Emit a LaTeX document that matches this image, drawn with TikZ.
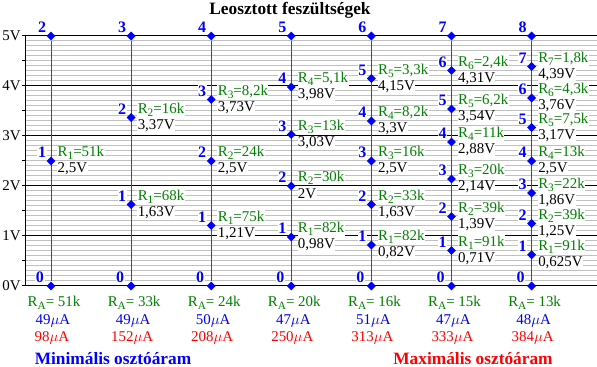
\documentclass[tikz,border=0pt]{standalone}
\usepackage{fontspec}
\setmainfont{Liberation Serif}
\usetikzlibrary{shapes.geometric}
\definecolor{lgray}{RGB}{192,192,192}
\definecolor{dgreen}{RGB}{0,128,0}
\newcommand\sbs[1]{\raisebox{-0.45ex}{\fontsize{8.5}{9}\selectfont #1}}
\tikzset{
  dot/.style={diamond,fill=blue,inner sep=0pt,minimum width=6.8pt,minimum height=6.8pt},
  num/.style={text=blue,font=\fontsize{12}{12}\selectfont\bfseries,fill=white,inner sep=0.4pt},
  rlab/.style={text=dgreen,font=\fontsize{11.2}{12}\selectfont,fill=white,inner sep=0.3pt,anchor=west},
  vlab/.style={text=black,font=\fontsize{11.2}{12}\selectfont,fill=white,inner sep=0.3pt,anchor=west},
  ralab/.style={text=dgreen,font=\fontsize{11.2}{12}\selectfont,inner sep=0pt},
  cura/.style={text=blue,font=\fontsize{11.2}{12}\selectfont,inner sep=0pt},
  curb/.style={text=red,font=\fontsize{11.2}{12}\selectfont,inner sep=0pt},
  axlab/.style={font=\fontsize{11.2}{12}\selectfont,inner sep=0pt,anchor=east},
  redline/.style={red,line width=0.75pt},
  gridg/.style={lgray,line width=0.75pt},
  gridk/.style={black,line width=0.75pt},
  bigtitle/.style={font=\fontsize{13}{14}\selectfont\bfseries,inner sep=0pt}
}
\newcommand\tap[6]{%
  \node[num] (#1n#3) at ({#2-9},{286-50*#4-8.5}) {#3};
  \node[rlab] (#1r#3) at ({#2+6},{286-50*#4-8}) {R\sbs{#3}=#5};
  \node[vlab] (#1v#3) at ({#2+6},{286-50*#4+8}) {#6};
  \node[dot] (#1t#3) at (#2,{286-50*#4}) {};
}
\newcommand\column[6]{%
  \node[dot] (#1top) at (#2,36) {};
  \node[dot] (#1bot) at (#2,286) {};
  \draw[redline] (#1top) -- (#1bot);
  \node[num] (#1ntop) at ({#2-9},27.5) {#3};
  \node[num] (#1nbot) at ({#2-11},277) {0};
  \node[ralab] (#1ra) at ({#2+3},303) {R\sbs{A}= #4};
  \node[cura] (#1ia) at ({#2+2},321) {#5$\mu$A};
  \node[curb] (#1ib) at ({#2+1},338) {#6$\mu$A};
}
\begin{document}
\begin{tikzpicture}[x=0.75pt,y=-0.75pt]
\useasboundingbox (0,0) rectangle (597,367);
% grid
\foreach \i in {1,...,49} {
  \pgfmathtruncatemacro\m{mod(\i,10)}
  \ifnum\m=0\else
    \draw[gridg] (26,{286-5*\i}) -- (597,{286-5*\i});
  \fi
}
\foreach \v in {0,...,5} {
  \draw[gridk] (22,{286-50*\v}) -- (597,{286-50*\v});
  \node[axlab] (ax\v) at (21,{286-50*\v}) {\v V};
}
\foreach \v in {0,...,4} {
  \draw[gridk] (22,{286-50*\v-25}) -- (25,{286-50*\v-25});
}
\draw[gridk] (25,36) -- (25,286);
% title
\node[bigtitle] (title) at (290,10) {Leosztott feszültségek};
% column 1
\column{a}{51}{2}{51k}{49}{98}
\tap{a}{51}{1}{2.5}{51k}{2,5V}
% column 2
\column{b}{131.1}{3}{33k}{49}{152}
\tap{b}{131.1}{2}{3.37}{16k}{3,37V}
\tap{b}{131.1}{1}{1.63}{68k}{1,63V}
% column 3
\column{c}{211.2}{4}{24k}{50}{208}
\tap{c}{211.2}{3}{3.73}{8,2k}{3,73V}
\tap{c}{211.2}{2}{2.5}{24k}{2,5V}
\tap{c}{211.2}{1}{1.21}{75k}{1,21V}
% column 4
\column{d}{291.3}{5}{20k}{47}{250}
\tap{d}{291.3}{4}{3.98}{5,1k}{3,98V}
\tap{d}{291.3}{3}{3.03}{13k}{3,03V}
\tap{d}{291.3}{2}{2}{30k}{2V}
\tap{d}{291.3}{1}{0.98}{82k}{0,98V}
% column 5
\column{e}{371.4}{6}{16k}{51}{313}
\tap{e}{371.4}{5}{4.15}{3,3k}{4,15V}
\tap{e}{371.4}{4}{3.3}{8,2k}{3,3V}
\tap{e}{371.4}{3}{2.5}{16k}{2,5V}
\tap{e}{371.4}{2}{1.63}{33k}{1,63V}
\tap{e}{371.4}{1}{0.82}{82k}{0,82V}
% column 6
\column{f}{451.5}{7}{15k}{47}{333}
\tap{f}{451.5}{6}{4.31}{2,4k}{4,31V}
\tap{f}{451.5}{5}{3.54}{6,2k}{3,54V}
\tap{f}{451.5}{4}{2.88}{11k}{2,88V}
\tap{f}{451.5}{3}{2.14}{20k}{2,14V}
\tap{f}{451.5}{2}{1.39}{39k}{1,39V}
\tap{f}{451.5}{1}{0.71}{91k}{0,71V}
% column 7
\column{g}{531.6}{8}{13k}{48}{384}
\tap{g}{531.6}{7}{4.39}{1,8k}{4,39V}
\tap{g}{531.6}{6}{3.76}{4,3k}{3,76V}
\tap{g}{531.6}{5}{3.17}{7,5k}{3,17V}
\tap{g}{531.6}{4}{2.5}{13k}{2,5V}
\tap{g}{531.6}{3}{1.86}{22k}{1,86V}
\tap{g}{531.6}{2}{1.25}{39k}{1,25V}
\tap{g}{531.6}{1}{0.625}{91k}{0,625V}
% bottom captions
\node[bigtitle,text=blue] (minl) at (113,359) {Minimális osztóáram};
\node[bigtitle,text=red] (maxl) at (473,359) {Maximális osztóáram};
\end{tikzpicture}
\end{document}
